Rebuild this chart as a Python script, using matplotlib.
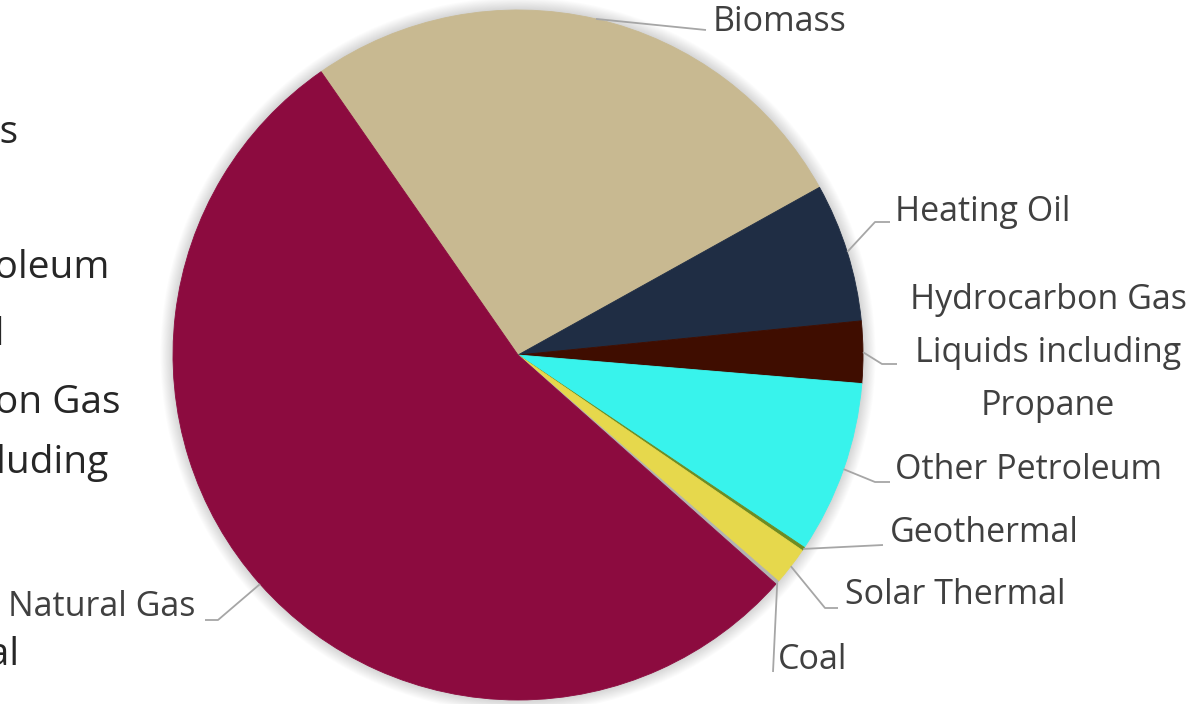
import numpy as np
import matplotlib
matplotlib.use("Agg")
import matplotlib.pyplot as plt
from matplotlib.patches import Circle

# wedge order, clockwise from the top-left boundary
sources = ["Biomass", "Heating Oil", "Hydrocarbon Gas\nLiquids including\nPropane",
           "Other Petroleum", "Geothermal", "Solar Thermal", "Coal", "Natural Gas"]
shares = [26.6, 6.5, 2.9, 8.1, 0.17, 1.8, 0.17, 53.8]
colors = ["#C8B991", "#1F2D44", "#3F0D00", "#38F3EC", "#6E8B22", "#E6D84C", "#B3B3B3", "#8C0B3F"]

# legend entries (left side, clipped by the figure edge)
legend_lines = ["Natural Gas", "Biomass", "Other Petroleum", "Heating Oil",
                "Hydrocarbon Gas", "Liquids including", "Propane",
                "Coal", "Geothermal", "Solar Thermal"]

W, H = 1192, 704
CX, CY, R = 518, 355, 345
START = 124.8

# label layout: text (x, y, ha), elbow points, all in pixel coords (y down)
label_layout = {
    "Biomass": ((713, 22, "left"), [(706, 30)]),
    "Heating Oil": ((895, 212, "left"), [(875, 222), (890, 222)]),
    "Hydrocarbon Gas\nLiquids including\nPropane": ((1048, 353, "center"), [(882, 364), (897, 364)]),
    "Other Petroleum": ((895, 470, "left"), [(875, 482), (890, 482)]),
    "Geothermal": ((890, 533, "left"), [(883, 545)]),
    "Solar Thermal": ((845, 595, "left"), [(825, 608), (838, 608)]),
    "Coal": ((778, 660, "left"), [(773, 672)]),
    "Natural Gas": ((195, 607, "right"), [(218, 620), (205, 620)]),
}


def yu(y):
    return H - y


fig = plt.figure(figsize=(W / 100, H / 100), dpi=100)
ax = fig.add_axes([0, 0, 1, 1])

# soft shadow around the pie
for i in range(14, 0, -1):
    ax.add_patch(Circle((CX, yu(CY)), R + i * 0.9, color="#000000",
                        alpha=0.012, lw=0, zorder=0))

wedges, _ = ax.pie(shares, colors=colors, startangle=START, counterclock=False,
                   center=(CX, yu(CY)), radius=R, frame=True,
                   wedgeprops=dict(linewidth=0))
for w, c in zip(wedges, colors):
    w.set_edgecolor(c)
    w.set_linewidth(0.6)
    w.set_zorder(2)

txt_kw = dict(family=["Open Sans", "DejaVu Sans"], color="#404040", fontsize=24.5)

total = sum(shares)
ang = START
for name, val in zip(sources, shares):
    span = val / total * 360
    mid = np.deg2rad(ang - span / 2)
    ang -= span
    (tx, ty, ha), elbows = label_layout[name]
    px = [CX + R * np.cos(mid)] + [p[0] for p in elbows]
    py = [yu(CY) + R * np.sin(mid)] + [yu(p[1]) for p in elbows]
    ax.plot(px, py, color="#A6A6A6", lw=1.3, zorder=3, solid_capstyle="butt")
    ax.text(tx, yu(ty), name, ha=ha, va="center", linespacing=1.72,
            multialignment="center", **txt_kw)

# legend text, mostly cut off at the left edge
leg_x = -196
leg_y = [133, 200, 268, 335, 403, 463, 530, 592, 655, 735]
for line, y in zip(legend_lines, leg_y):
    ax.text(leg_x, yu(y), line, ha="left", va="center",
            family=["Open Sans", "DejaVu Sans"], color="#262626", fontsize=28)

ax.set_xlim(0, W)
ax.set_ylim(0, H)
ax.set_aspect("equal")
ax.axis("off")

fig.savefig("out.png", dpi=100)
